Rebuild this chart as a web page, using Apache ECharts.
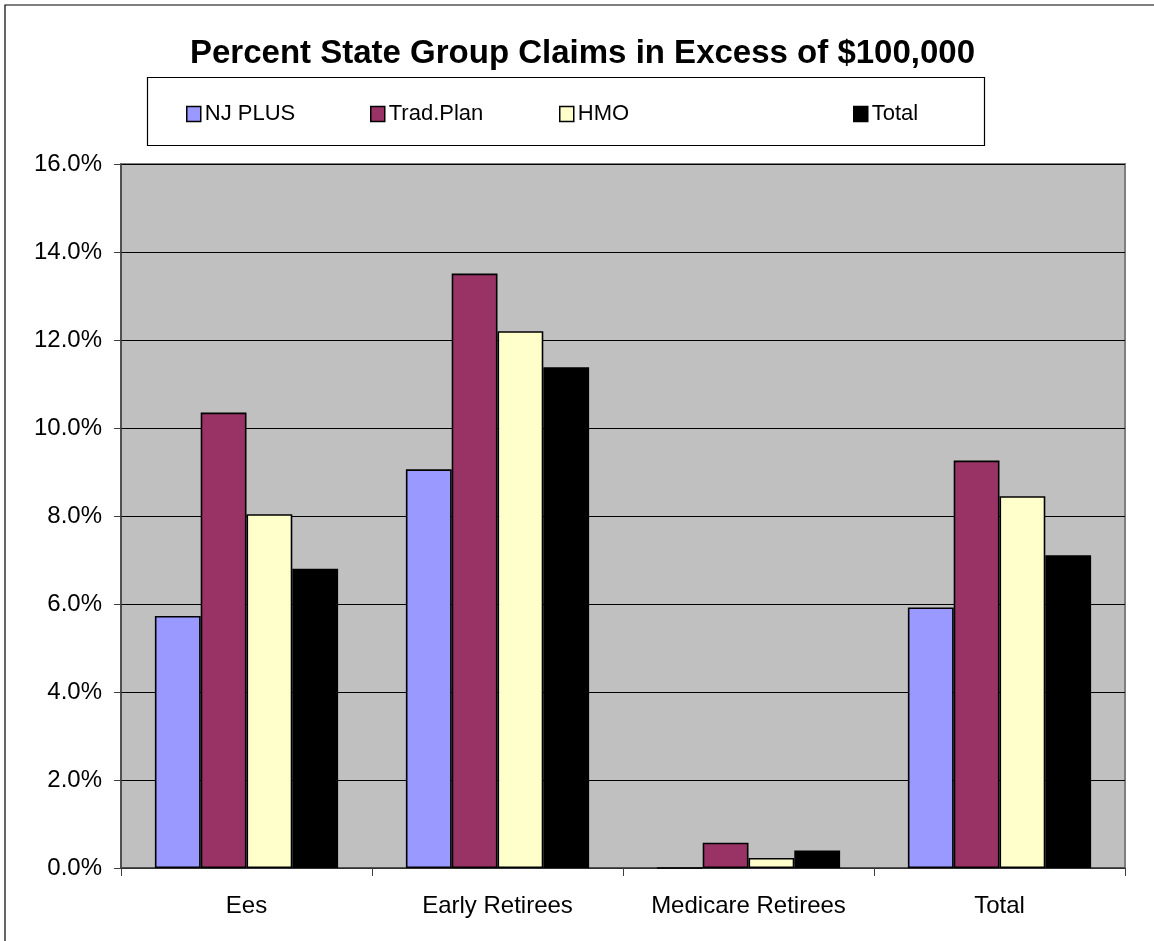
<!DOCTYPE html>
<html>
<head>
<meta charset="utf-8">
<style>
  html, body { margin: 0; padding: 0; background: #ffffff; }
  #chart { width: 1154px; height: 941px; }
</style>
<script src="https://cdn.jsdelivr.net/npm/echarts@6/dist/echarts.min.js"></script>
</head>
<body>
<div id="chart"></div>
<script>
// Share of claims above $100,000, by group and plan (percent)
const categories = ['Ees', 'Early Retirees', 'Medicare Retirees', 'Total'];
const seriesNames = ['NJ PLUS', 'Trad.Plan', 'HMO', 'Total'];
const njPlus   = [5.73, 9.06, 0.00, 5.92];
const tradPlan = [10.35, 13.51, 0.575, 9.26];
const hmo      = [8.04, 12.20, 0.23, 8.45];
const total    = [6.80, 11.38, 0.40, 7.11];
const yTicks = { min: 0, max: 16, step: 2 };

const colors = ['#9999FF', '#993366', '#FFFFCC', '#000000'];
const values = [njPlus, tradPlan, hmo, total];
const font = 'Liberation Sans, Arial, sans-serif';

const chart = echarts.init(document.getElementById('chart'), null, { renderer: 'canvas' });

// legend entries sit in a framed box above the plot, each at its own column
const legendLefts = [186, 370, 559, 853];
const legends = seriesNames.map((name, i) => ({
  data: [name],
  left: legendLefts[i],
  top: 103,
  orient: 'horizontal',
  padding: 0,
  itemWidth: 14,
  itemHeight: 15,
  itemGap: 0,
  icon: 'rect',
  selectedMode: false,
  itemStyle: { borderColor: '#000', borderWidth: 1.5 },
  textStyle: { fontFamily: font, fontSize: 22, color: '#000', padding: [0, 0, 0, -1] }
}));

chart.setOption({
  backgroundColor: '#ffffff',
  animation: false,
  graphic: [
    { type: 'rect', z: -10, shape: { x: 5, y: 5, width: 1160, height: 950 },
      style: { fill: '#ffffff', stroke: '#000', lineWidth: 1.2 } },
    { type: 'rect', z: -5, shape: { x: 147.5, y: 77.5, width: 837, height: 68 },
      style: { fill: '#ffffff', stroke: '#000', lineWidth: 1.2 } }
  ],
  title: {
    text: 'Percent State Group Claims in Excess of $100,000',
    left: 190,
    top: 37,
    padding: 0,
    textStyle: { fontFamily: font, fontWeight: 'bold', fontSize: 33, color: '#000' }
  },
  legend: legends,
  grid: {
    left: 121, right: 29, top: 164, bottom: 73,
    show: true,
    backgroundColor: '#C0C0C0',
    borderColor: '#808080',
    borderWidth: 2
  },
  xAxis: {
    type: 'category',
    data: categories,
    boundaryGap: true,
    axisLine: { show: true, lineStyle: { color: '#404040', width: 1.5 } },
    axisTick: { show: true, interval: 0, length: 8, inside: false, lineStyle: { color: '#404040', width: 1 } },
    axisLabel: { interval: 0, fontFamily: font, fontSize: 24, color: '#000', margin: 26 },
    splitLine: { show: false }
  },
  yAxis: {
    type: 'value',
    min: yTicks.min,
    max: yTicks.max,
    interval: yTicks.step,
    axisLine: { show: true, lineStyle: { color: '#404040', width: 1.5 } },
    axisTick: { show: true, length: 7, lineStyle: { color: '#404040', width: 1 } },
    axisLabel: {
      fontFamily: font, fontSize: 24, color: '#000', margin: 19,
      formatter: v => v.toFixed(1) + '%'
    },
    splitLine: { show: true, lineStyle: { color: '#000', width: 1 } }
  },
  series: seriesNames.map((name, i) => ({
    name: name,
    type: 'bar',
    data: values[i],
    barGap: '0%',
    barCategoryGap: '27%',
    itemStyle: { color: colors[i], borderColor: '#000', borderWidth: 1.6 },
    emphasis: { disabled: true }
  }))
});
</script>
</body>
</html>
